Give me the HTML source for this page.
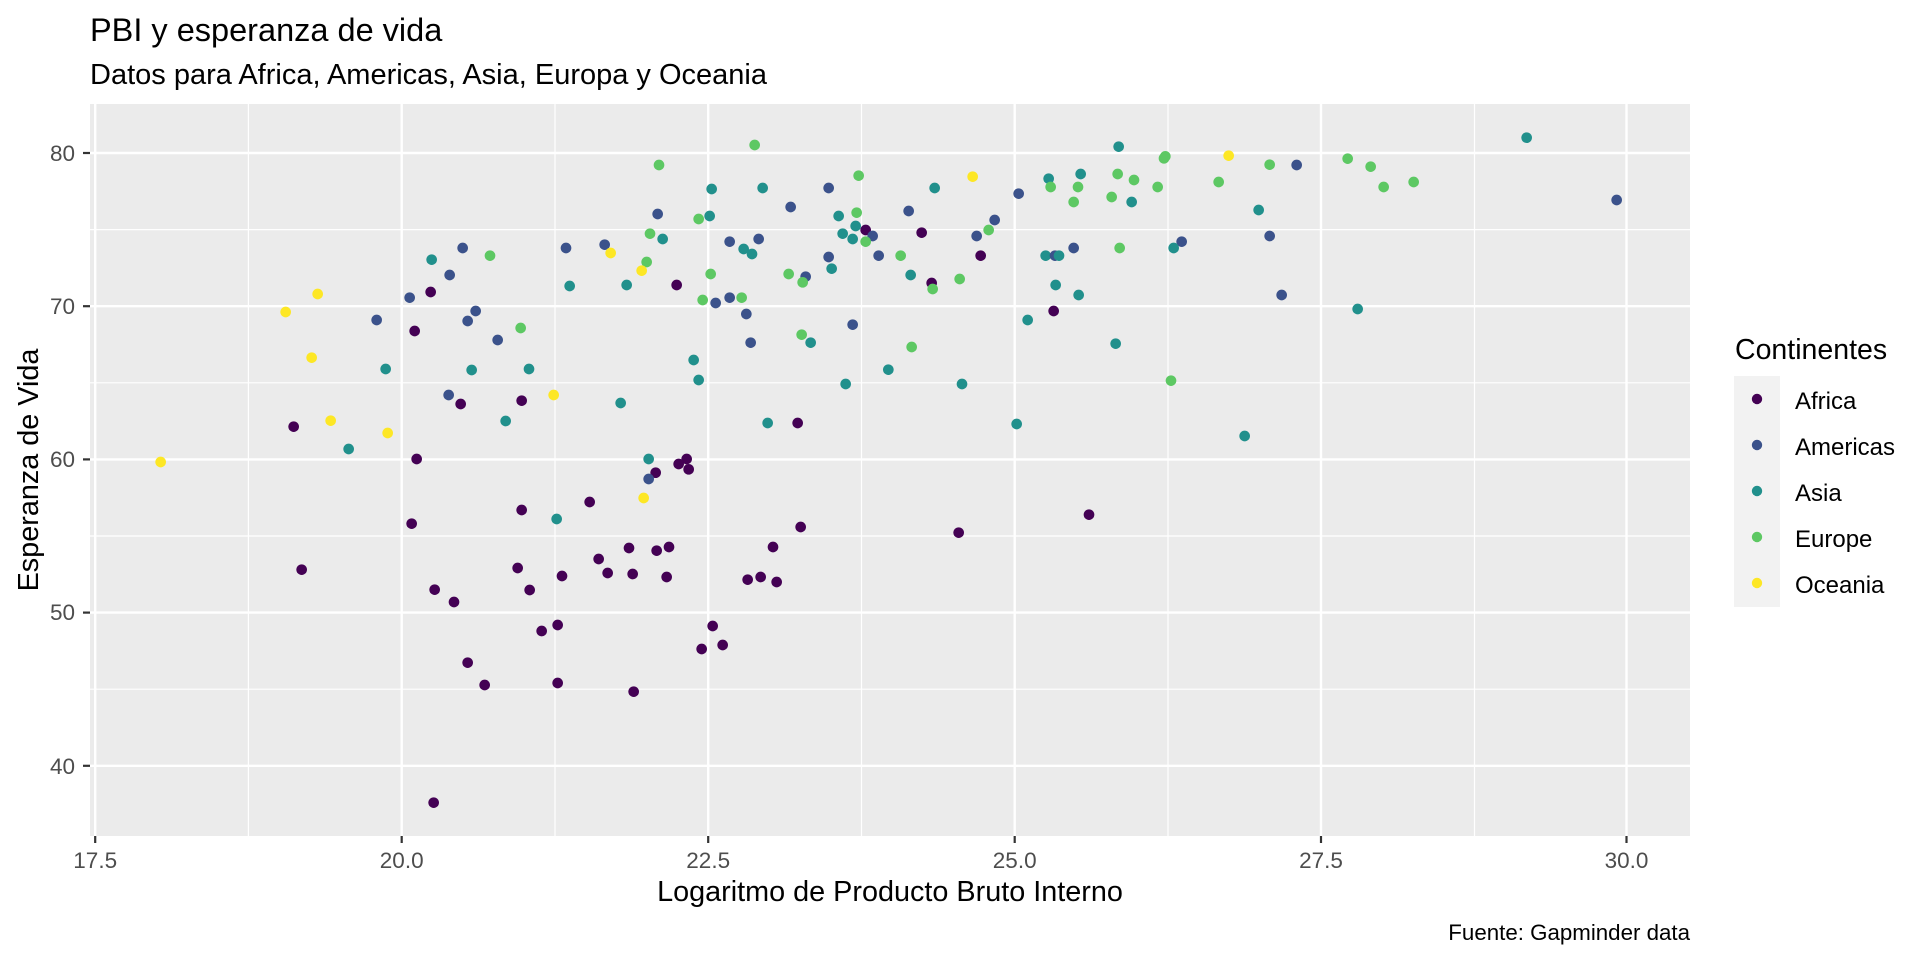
<!DOCTYPE html>
<html><head><meta charset="utf-8"><style>
html,body{margin:0;padding:0;background:#fff;}
svg{display:block;font-family:"Liberation Sans",Arial,sans-serif;}
.a{fill:#440154}.m{fill:#3B528B}.s{fill:#21908C}.e{fill:#5DC863}.o{fill:#FDE725}
.tk{fill:#4D4D4D;font-size:22.5px}
circle{r:16px}
</style></head><body>
<svg width="1920" height="960" viewBox="0 0 1920 960" xmlns="http://www.w3.org/2000/svg">
<rect width="1920" height="960" fill="#fff"/>
<text x="90" y="41" font-size="32.5" fill="#000">PBI y esperanza de vida</text>
<text x="90" y="84" font-size="29" fill="#000">Datos para Africa, Americas, Asia, Europa y Oceania</text>
<rect x="90" y="104" width="1600" height="732" fill="#EBEBEB"/>
<g stroke="#fff" stroke-width="1.2">
<line x1="248.4" y1="104" x2="248.4" y2="836"/><line x1="555" y1="104" x2="555" y2="836"/><line x1="861.5" y1="104" x2="861.5" y2="836"/><line x1="1168" y1="104" x2="1168" y2="836"/><line x1="1474.5" y1="104" x2="1474.5" y2="836"/>
<line x1="90" y1="229.6" x2="1690" y2="229.6"/><line x1="90" y1="382.8" x2="1690" y2="382.8"/><line x1="90" y1="536" x2="1690" y2="536"/><line x1="90" y1="689.2" x2="1690" y2="689.2"/>
</g>
<g stroke="#fff" stroke-width="2.4">
<line x1="95.2" y1="104" x2="95.2" y2="836"/><line x1="401.7" y1="104" x2="401.7" y2="836"/><line x1="708.2" y1="104" x2="708.2" y2="836"/><line x1="1014.7" y1="104" x2="1014.7" y2="836"/><line x1="1321" y1="104" x2="1321" y2="836"/><line x1="1626.5" y1="104" x2="1626.5" y2="836"/>
<line x1="90" y1="153" x2="1690" y2="153"/><line x1="90" y1="306.2" x2="1690" y2="306.2"/><line x1="90" y1="459.4" x2="1690" y2="459.4"/><line x1="90" y1="612.6" x2="1690" y2="612.6"/><line x1="90" y1="765.8" x2="1690" y2="765.8"/>
</g>
<g stroke="#333" stroke-width="2.2">
<line x1="83" y1="153" x2="90" y2="153"/><line x1="83" y1="306.2" x2="90" y2="306.2"/><line x1="83" y1="459.4" x2="90" y2="459.4"/><line x1="83" y1="612.6" x2="90" y2="612.6"/><line x1="83" y1="765.8" x2="90" y2="765.8"/>
<line x1="95.2" y1="836" x2="95.2" y2="843"/><line x1="401.7" y1="836" x2="401.7" y2="843"/><line x1="708.2" y1="836" x2="708.2" y2="843"/><line x1="1014.7" y1="836" x2="1014.7" y2="843"/><line x1="1321" y1="836" x2="1321" y2="843"/><line x1="1626.5" y1="836" x2="1626.5" y2="843"/>
</g>
<g class="tk" text-anchor="end">
<text x="75" y="161">80</text><text x="75" y="314">70</text><text x="75" y="467">60</text><text x="75" y="620">50</text><text x="75" y="774">40</text>
</g>
<g class="tk" text-anchor="middle">
<text x="95.2" y="868">17.5</text><text x="401.7" y="868">20.0</text><text x="708.2" y="868">22.5</text><text x="1014.7" y="868">25.0</text><text x="1321" y="868">27.5</text><text x="1626.5" y="868">30.0</text>
</g>
<text x="890" y="901" font-size="28.8" text-anchor="middle" fill="#000">Logaritmo de Producto Bruto Interno</text>
<text transform="translate(38,470) rotate(-90)" font-size="28.8" text-anchor="middle" fill="#000">Esperanza de Vida</text>
<text x="1690" y="940" font-size="22.3" text-anchor="end" fill="#000">Fuente: Gapminder data</text>

<g transform="translate(90,104) scale(0.33333)">
<circle class="m" cx="1118" cy="432" r="16"/><circle class="s" cx="1025" cy="467" r="16"/><circle class="m" cx="1079" cy="513" r="16"/>
<circle class="o" cx="683" cy="570" r="16"/><circle class="a" cx="1022" cy="564" r="16"/><circle class="m" cx="959" cy="581" r="16"/>
<circle class="o" cx="587" cy="624" r="16"/><circle class="m" cx="1157" cy="621" r="16"/><circle class="m" cx="860" cy="648" r="16"/>
<circle class="m" cx="1133" cy="651" r="16"/><circle class="a" cx="974" cy="681" r="16"/><circle class="o" cx="665" cy="761" r="16"/>
<circle class="s" cx="887" cy="795" r="16"/><circle class="s" cx="1145" cy="798" r="16"/><circle class="m" cx="1076" cy="873" r="16"/>
<circle class="a" cx="1112" cy="900" r="16"/><circle class="a" cx="611" cy="968" r="16"/><circle class="o" cx="722" cy="950" r="16"/>
<circle class="o" cx="893" cy="987" r="16"/><circle class="s" cx="776" cy="1035" r="16"/><circle class="o" cx="212" cy="1074" r="16"/>
<circle class="a" cx="980" cy="1065" r="16"/>
</g>
<g transform="translate(490,104) scale(0.33333)">
<circle class="e" cx="0" cy="455" r="16"/>
<circle class="e" cx="794" cy="123" r="16"/><circle class="e" cx="507" cy="183" r="16"/><circle class="e" cx="1106" cy="215" r="16"/>
<circle class="s" cx="665" cy="255" r="16"/><circle class="s" cx="818" cy="252" r="16"/><circle class="m" cx="1016" cy="252" r="16"/>
<circle class="m" cx="902" cy="309" r="16"/><circle class="m" cx="503" cy="330" r="16"/><circle class="e" cx="626" cy="345" r="16"/>
<circle class="s" cx="659" cy="336" r="16"/><circle class="s" cx="1046" cy="336" r="16"/><circle class="e" cx="1100" cy="326" r="16"/>
<circle class="s" cx="1097" cy="366" r="16"/><circle class="a" cx="1127" cy="378" r="16"/><circle class="m" cx="1148" cy="396" r="16"/>
<circle class="e" cx="480" cy="389" r="16"/><circle class="s" cx="518" cy="405" r="16"/><circle class="s" cx="1058" cy="389" r="16"/>
<circle class="s" cx="1088" cy="405" r="16"/><circle class="e" cx="1127" cy="413" r="16"/><circle class="m" cx="719" cy="413" r="16"/>
<circle class="m" cx="806" cy="405" r="16"/><circle class="s" cx="761" cy="435" r="16"/><circle class="s" cx="786" cy="450" r="16"/>
<circle class="m" cx="228" cy="432" r="16"/><circle class="m" cx="344" cy="422" r="16"/><circle class="o" cx="362" cy="447" r="16"/>
<circle class="e" cx="470" cy="474" r="16"/><circle class="o" cx="455" cy="500" r="16"/><circle class="m" cx="1016" cy="459" r="16"/>
<circle class="m" cx="1166" cy="455" r="16"/><circle class="s" cx="1025" cy="494" r="16"/><circle class="e" cx="662" cy="510" r="16"/>
<circle class="e" cx="896" cy="510" r="16"/><circle class="m" cx="947" cy="518" r="16"/><circle class="e" cx="938" cy="535" r="16"/>
<circle class="s" cx="239" cy="546" r="16"/><circle class="s" cx="410" cy="543" r="16"/><circle class="a" cx="560" cy="543" r="16"/>
<circle class="e" cx="638" cy="588" r="16"/><circle class="m" cx="677" cy="597" r="16"/><circle class="m" cx="719" cy="581" r="16"/>
<circle class="e" cx="755" cy="581" r="16"/><circle class="m" cx="769" cy="630" r="16"/><circle class="m" cx="1088" cy="662" r="16"/>
<circle class="e" cx="92" cy="672" r="16"/><circle class="m" cx="23" cy="708" r="16"/><circle class="e" cx="935" cy="692" r="16"/>
<circle class="s" cx="962" cy="716" r="16"/><circle class="m" cx="782" cy="716" r="16"/><circle class="s" cx="117" cy="795" r="16"/>
<circle class="s" cx="611" cy="768" r="16"/><circle class="s" cx="626" cy="828" r="16"/><circle class="s" cx="1067" cy="840" r="16"/>
<circle class="s" cx="1195" cy="797" r="16"/><circle class="o" cx="191" cy="873" r="16"/><circle class="a" cx="95" cy="890" r="16"/>
<circle class="s" cx="392" cy="897" r="16"/><circle class="s" cx="47" cy="951" r="16"/><circle class="s" cx="833" cy="957" r="16"/>
<circle class="a" cx="923" cy="957" r="16"/><circle class="s" cx="476" cy="1065" r="16"/><circle class="a" cx="590" cy="1065" r="16"/>
<circle class="a" cx="566" cy="1080" r="16"/>
</g>
<g transform="translate(890,104) scale(0.33333)">
<circle class="s" cx="686" cy="128" r="16"/><circle class="e" cx="826" cy="157" r="16"/><circle class="e" cx="822" cy="163" r="16"/>
<circle class="o" cx="1016" cy="155" r="16"/><circle class="e" cx="1139" cy="182" r="16"/><circle class="o" cx="248" cy="218" r="16"/>
<circle class="s" cx="134" cy="252" r="16"/><circle class="s" cx="476" cy="224" r="16"/><circle class="s" cx="572" cy="210" r="16"/>
<circle class="e" cx="683" cy="210" r="16"/><circle class="e" cx="732" cy="228" r="16"/><circle class="e" cx="482" cy="249" r="16"/>
<circle class="e" cx="564" cy="249" r="16"/><circle class="e" cx="803" cy="249" r="16"/><circle class="e" cx="986" cy="234" r="16"/>
<circle class="m" cx="386" cy="269" r="16"/><circle class="e" cx="665" cy="279" r="16"/><circle class="e" cx="551" cy="294" r="16"/>
<circle class="s" cx="725" cy="294" r="16"/><circle class="s" cx="1106" cy="318" r="16"/><circle class="m" cx="56" cy="321" r="16"/>
<circle class="m" cx="314" cy="348" r="16"/><circle class="e" cx="296" cy="378" r="16"/><circle class="a" cx="95" cy="386" r="16"/>
<circle class="m" cx="260" cy="396" r="16"/><circle class="m" cx="1139" cy="396" r="16"/><circle class="m" cx="551" cy="432" r="16"/>
<circle class="e" cx="689" cy="432" r="16"/><circle class="m" cx="875" cy="413" r="16"/><circle class="s" cx="851" cy="432" r="16"/>
<circle class="e" cx="32" cy="455" r="16"/><circle class="a" cx="272" cy="455" r="16"/><circle class="s" cx="467" cy="455" r="16"/>
<circle class="m" cx="495" cy="455" r="16"/><circle class="s" cx="507" cy="455" r="16"/><circle class="s" cx="62" cy="513" r="16"/>
<circle class="a" cx="125" cy="537" r="16"/><circle class="e" cx="128" cy="555" r="16"/><circle class="e" cx="209" cy="525" r="16"/>
<circle class="s" cx="497" cy="543" r="16"/><circle class="s" cx="566" cy="573" r="16"/><circle class="m" cx="1175" cy="573" r="16"/>
<circle class="a" cx="491" cy="621" r="16"/><circle class="s" cx="413" cy="648" r="16"/><circle class="e" cx="65" cy="729" r="16"/>
<circle class="s" cx="677" cy="719" r="16"/><circle class="s" cx="216" cy="840" r="16"/><circle class="e" cx="843" cy="830" r="16"/>
<circle class="s" cx="380" cy="960" r="16"/><circle class="s" cx="1064" cy="996" r="16"/>
</g>
<g transform="translate(1290,104) scale(0.33333)">
<circle class="m" cx="20" cy="183" r="16"/><circle class="e" cx="173" cy="164" r="16"/><circle class="e" cx="242" cy="188" r="16"/>
<circle class="e" cx="281" cy="249" r="16"/><circle class="e" cx="371" cy="234" r="16"/><circle class="s" cx="710" cy="101" r="16"/>
<circle class="m" cx="980" cy="288" r="16"/><circle class="s" cx="203" cy="615" r="16"/>
</g>
<g transform="translate(90,470) scale(0.33333)">
<circle class="a" cx="965" cy="161" r="16"/><circle class="a" cx="635" cy="299" r="16"/><circle class="a" cx="1034" cy="359" r="16"/>
<circle class="a" cx="1092" cy="396" r="16"/><circle class="a" cx="1133" cy="578" r="16"/><circle class="a" cx="1184" cy="645" r="16"/>
<circle class="a" cx="1031" cy="998" r="16"/>
</g>
<g transform="translate(490,470) scale(0.33333)">
<circle class="a" cx="497" cy="8" r="16"/><circle class="a" cx="596" cy="-2" r="16"/><circle class="m" cx="476" cy="27" r="16"/>
<circle class="o" cx="461" cy="84" r="16"/><circle class="a" cx="299" cy="96" r="16"/><circle class="a" cx="95" cy="120" r="16"/>
<circle class="s" cx="200" cy="147" r="16"/><circle class="a" cx="932" cy="171" r="16"/><circle class="a" cx="849" cy="231" r="16"/>
<circle class="a" cx="417" cy="234" r="16"/><circle class="a" cx="500" cy="242" r="16"/><circle class="a" cx="537" cy="231" r="16"/>
<circle class="a" cx="326" cy="267" r="16"/><circle class="a" cx="83" cy="294" r="16"/><circle class="a" cx="216" cy="318" r="16"/>
<circle class="a" cx="353" cy="309" r="16"/><circle class="a" cx="428" cy="312" r="16"/><circle class="a" cx="530" cy="321" r="16"/>
<circle class="a" cx="773" cy="329" r="16"/><circle class="a" cx="812" cy="321" r="16"/><circle class="a" cx="860" cy="336" r="16"/>
<circle class="a" cx="119" cy="360" r="16"/><circle class="a" cx="155" cy="483" r="16"/><circle class="a" cx="203" cy="465" r="16"/>
<circle class="a" cx="668" cy="468" r="16"/><circle class="a" cx="698" cy="525" r="16"/><circle class="a" cx="635" cy="537" r="16"/>
<circle class="a" cx="203" cy="639" r="16"/><circle class="a" cx="431" cy="665" r="16"/>
</g>
<g transform="translate(890,470) scale(0.33333)">
<circle class="a" cx="206" cy="188" r="16"/><circle class="a" cx="597" cy="134" r="16"/>
</g>

<text x="1735" y="359" font-size="28.5" fill="#000">Continentes</text>
<rect x="1734" y="376" width="46" height="231" fill="#F2F2F2"/>
<g>
<circle class="a" cx="1757" cy="399" r="5.2" style="r:5.2px"/><circle class="m" cx="1757" cy="445" r="5.2" style="r:5.2px"/><circle class="s" cx="1757" cy="491" r="5.2" style="r:5.2px"/><circle class="e" cx="1757" cy="537" r="5.2" style="r:5.2px"/><circle class="o" cx="1757" cy="583" r="5.2" style="r:5.2px"/>
</g>
<g font-size="24" fill="#000">
<text x="1795" y="409">Africa</text><text x="1795" y="455">Americas</text><text x="1795" y="501">Asia</text><text x="1795" y="547">Europe</text><text x="1795" y="593">Oceania</text>
</g>
</svg>
</body></html>
